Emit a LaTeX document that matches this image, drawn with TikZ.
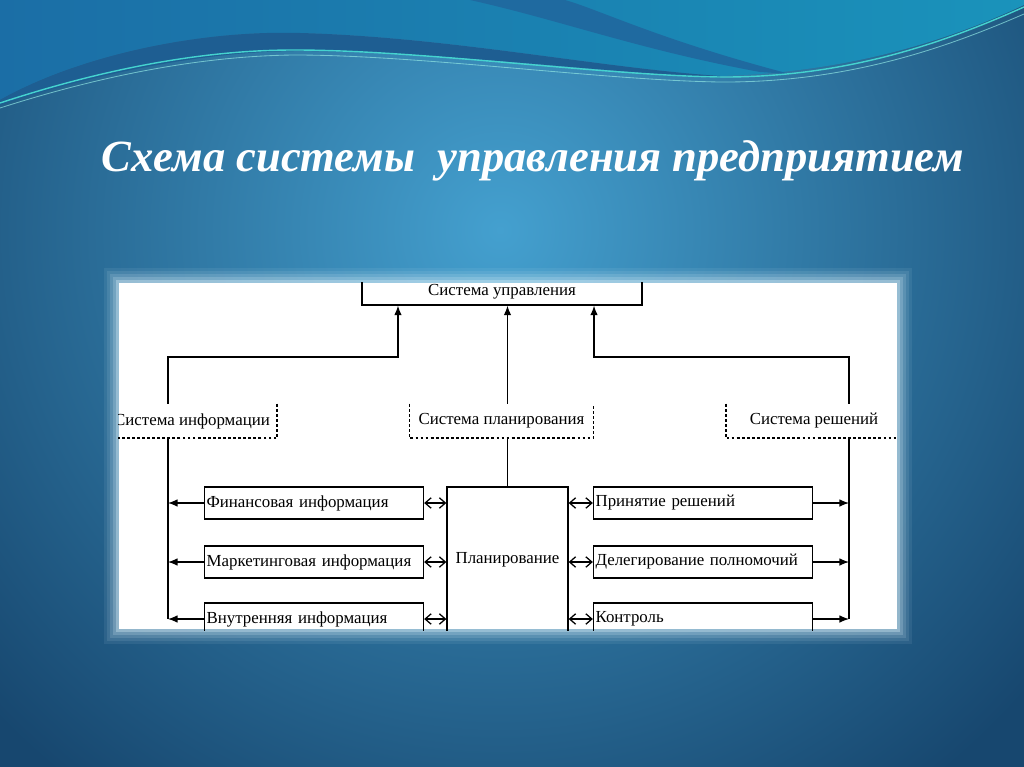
\documentclass[tikz,border=0pt]{standalone}
\usepackage{fontspec}
\setmainfont{Liberation Serif}
\usetikzlibrary{arrows.meta}

\begin{document}
\begin{tikzpicture}[x=0.025cm, y=-0.025cm,
    link/.style={line width=0.9pt},
    arr/.style={link, -{Latex[length=2.4mm,width=1.9mm]}},
    dbl/.style={link, {Straight Barb[length=1.5mm,width=2.6mm]}-{Straight Barb[length=1.5mm,width=2.6mm]}},
    dotline/.style={line width=1.2pt, dash pattern=on 2pt off 1.6pt},
    box/.style={draw, line width=0.9pt, minimum height=0.8cm, text width=5.37cm, inner xsep=1.5pt, inner ysep=0pt, align=left, font=\fontsize{12}{14}\selectfont},
    topbox/.style={draw, line width=0.9pt, minimum width=7cm, minimum height=0.65cm, inner sep=0pt, font=\fontsize{12}{14}\selectfont},
    dotbox/.style={minimum height=0.85cm, inner sep=0pt, font=\fontsize{12}{14}\selectfont},
    plan/.style={draw, line width=0.9pt, minimum width=3.025cm, minimum height=3.65cm, inner sep=0pt, font=\fontsize{12}{14}\selectfont},
    title/.style={text=white, font=\fontsize{31.7}{38}\selectfont\bfseries\itshape}]
    \definecolor{bgdark}{HTML}{17476F}
    \definecolor{bglight}{HTML}{44A0CF}
    \definecolor{topleft}{HTML}{1B6EA6}
    \definecolor{topright}{HTML}{1A93BB}
    \definecolor{banddark}{HTML}{1E5E92}
    \definecolor{ribbon}{HTML}{1F6AA0}
    \definecolor{glint}{HTML}{45D3CF}
    \definecolor{halo}{HTML}{D8EEF8}

    \useasboundingbox (0,0) rectangle (1024,767);

    % background
    \begin{scope}
        \clip (0,0) rectangle (1024,767);
        \shade[inner color=bglight, outer color=bgdark] (-200,-470) rectangle (1200,930);
        \shade[left color=topleft, right color=topright] (0,0) -- (0,100) .. controls (80,55) and (200,30) .. (300,33) .. controls (450,37) and (600,68) .. (720,76) .. controls (860,72) and (960,35) .. (1024,5) -- (1024,0) -- cycle;
        \fill[ribbon] (470,0) .. controls (560,20) and (640,50) .. (760,72) -- (790,74) .. controls (660,40) and (600,10) .. (565,0) -- cycle;
        \fill[banddark] (0,100) .. controls (80,55) and (200,30) .. (300,33) .. controls (450,37) and (600,68) .. (720,76) -- (720,78) .. controls (600,72) and (420,50) .. (294,51) .. controls (180,52) and (60,85) .. (0,105) -- cycle;
        \draw[glint, line width=1pt] (0,103) .. controls (100,70) and (200,50) .. (294,50) .. controls (420,50) and (600,75) .. (719,77) .. controls (850,78) and (950,40) .. (1024,7);
        \draw[glint!60!white, line width=0.6pt, opacity=0.7] (0,108) .. controls (100,76) and (200,56) .. (294,55) .. controls (420,55) and (600,80) .. (719,82) .. controls (850,83) and (950,46) .. (1024,14);
    \end{scope}

    % title
    \node[title] (ttl) at (533,161) {Схема системы~ управления предприятием};

    % white panel
    \fill[halo, opacity=0.08] (104,268) rectangle (912,644);
    \fill[halo, opacity=0.1] (107,271) rectangle (909,641);
    \fill[halo, opacity=0.14] (110,274) rectangle (906,638);
    \fill[halo, opacity=0.2] (113,277) rectangle (903,635);
    \fill[halo, opacity=0.35] (116,280) rectangle (900,632);
    \fill[white] (119,283) rectangle (897,629);

    \begin{scope}
        \clip (118,282) rectangle (898,630);

        % boxes
        \node[topbox] (su) at (502,292) {Система управления};
        \node[dotbox, minimum width=4.25cm] (si) at (192,421) {Система информации};
        \node[dotbox, minimum width=4.58cm] (sp) at (501.5,421) {Система планирования};
        \node[dotbox, minimum width=4.4cm] (sr) at (814,421) {Система решений};
        \node[plan] (pl) at (507.5,560) {Планирование};
        \node[box] (fi) at (314,503) {Финансовая информация};
        \node[box] (mi) at (314,562) {Маркетинговая информация};
        \node[box] (vi) at (314,619) {Внутренняя информация};
        \node[box] (pr) at (703,503) {Принятие решений};
        \node[box] (dp) at (703,562) {Делегирование полномочий};
        \node[box] (kn) at (703,619) {Контроль};

        % dotted frames
        \draw[dotline] (si.north east) -- (si.south east) -- (si.south west) -- (si.north west);
        \draw[dotline] (sp.north west) -- (sp.south west) -- (sp.south east) -- (sp.north east);
        \draw[dotline] (sr.north west) -- (sr.south west) -- (sr.south east) -- (sr.north east);

        % links to the top
        \coordinate (busL) at (168,357);
        \coordinate (busR) at (849,357);
        \draw[arr] (si.north -| busL) -- (busL) -| ([xshift=-2.6cm]su.south);
        \draw[arr] (sr.north -| busR) -- (busR) -| ([xshift=2.3cm]su.south);
        \draw[arr] (sp.north -| pl.north) -- (su.south -| pl.north);
        \draw[link] (sp.south -| pl.north) -- (pl.north);

        % side buses
        \draw[link] (si.south -| busL) -- (busL |- vi.west);
        \draw[link] (sr.south -| busR) -- (busR |- kn.east);
        \draw[arr] (fi.west) -- (fi.west -| busL);
        \draw[arr] (mi.west) -- (mi.west -| busL);
        \draw[arr] (vi.west) -- (vi.west -| busL);
        \draw[arr] (pr.east) -- (pr.east -| busR);
        \draw[arr] (dp.east) -- (dp.east -| busR);
        \draw[arr] (kn.east) -- (kn.east -| busR);

        % exchange with planning
        \draw[dbl] (fi.east) -- (fi.east -| pl.west);
        \draw[dbl] (mi.east) -- (mi.east -| pl.west);
        \draw[dbl] (vi.east) -- (vi.east -| pl.west);
        \draw[dbl] (pr.west) -- (pr.west -| pl.east);
        \draw[dbl] (dp.west) -- (dp.west -| pl.east);
        \draw[dbl] (kn.west) -- (kn.west -| pl.east);
    \end{scope}
\end{tikzpicture}
\end{document}
